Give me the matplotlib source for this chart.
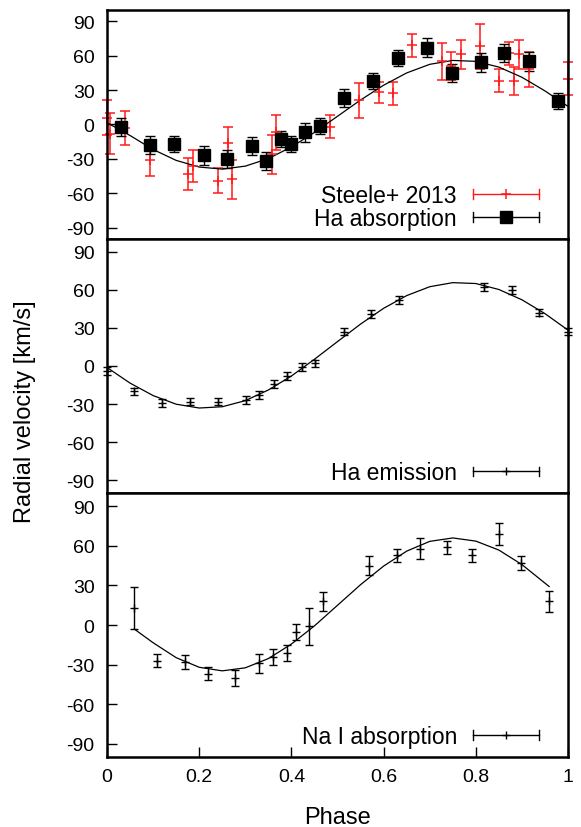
"""
Radial velocity curves folded on orbital phase, three stacked panels.
"""

import matplotlib.pyplot as plt
from matplotlib.container import ErrorbarContainer
from matplotlib.legend_handler import HandlerBase
from matplotlib.lines import Line2D

plt.rcParams['font.family'] = ['Liberation Sans', 'DejaVu Sans']
plt.rcParams['axes.unicode_minus'] = False

# %%
# Top panel: Steele+ 2013 points and our Ha absorption points

steele_phase = [0.000, 0.006, 0.039, 0.093, 0.176, 0.187, 0.241, 0.262, 0.272,
                0.357, 0.367, 0.484, 0.547, 0.589, 0.620, 0.661, 0.726, 0.746,
                0.767, 0.809, 0.851, 0.873, 0.883, 0.894, 0.916, 1.000]
steele_rv = [6, -8, -3, -31, -43, -36, -49, -16, -48,
             -26, -7, -2, 21, 28, 27, 69, 55, 51,
             61, 68, 38, 62, 38, 61, 48, 40]
steele_err = [15, 18, 15, 14, 14, 14, 11, 14, 17,
              17, 15, 10, 15, 9, 10, 10, 16, 12,
              13, 20, 10, 10, 12, 13, 15, 14]

ha_abs_phase = [0.030, 0.093, 0.146, 0.210, 0.260, 0.315, 0.345, 0.377, 0.399, 0.430,
                0.463, 0.515, 0.578, 0.631, 0.693, 0.748, 0.811, 0.862, 0.915, 0.979]
ha_abs_rv = [-2, -18, -17, -27, -30, -19, -32, -13, -17, -7,
             -1, 23, 38, 58, 67, 45, 54, 62, 55, 20]
ha_abs_err = [8, 8, 7, 8, 8, 8, 8, 7, 7, 8,
              7, 8, 7, 7, 8, 8, 8, 8, 8, 7]

# %%
# Middle panel: Ha emission

ha_em_phase = [0.000, 0.059, 0.119, 0.181, 0.241, 0.302, 0.330, 0.362, 0.391,
               0.423, 0.452, 0.513, 0.573, 0.634, 0.817, 0.878, 0.938, 0.999]
ha_em_rv = [-4, -20, -29, -28, -28, -27, -23, -14, -8,
            -1, 2, 27, 41, 52, 62, 60, 42, 27]
ha_em_err = [3, 3, 3, 3, 3, 3, 3, 3, 3,
             3, 3, 3, 3, 3, 3, 3, 3, 3]

# %%
# Bottom panel: Na I absorption

na_phase = [0.059, 0.109, 0.169, 0.218, 0.278, 0.329, 0.359, 0.390, 0.409, 0.439,
            0.469, 0.569, 0.630, 0.679, 0.738, 0.791, 0.850, 0.898, 0.959]
na_rv = [13, -27, -28, -37, -40, -29, -24, -21, -5, -1,
         18, 45, 53, 58, 59, 53, 69, 47, 18]
na_err = [16, 5, 5, 5, 6, 7, 6, 6, 6, 14,
          7, 7, 5, 8, 5, 5, 8, 5.5, 8]

# %%
# Fitted curves

fit_phase = [0.00, 0.05, 0.10, 0.15, 0.20, 0.25, 0.30, 0.35, 0.40, 0.45, 0.50,
             0.55, 0.60, 0.65, 0.70, 0.75, 0.80, 0.85, 0.90, 0.95, 1.00]
fit_abs = [1.5, -9.7, -21.9, -31.4, -37.2, -39.0, -36.4, -29.8, -19.7, -7.0, 7.1,
           21.3, 34.2, 44.9, 52.4, 55.8, 55.0, 50.0, 41.1, 29.2, 15.7]
fit_em = [-1.2, -13.5, -23.3, -30.1, -33.1, -32.1, -27.3, -18.9, -7.9, 5.3, 19.2,
          33.0, 45.4, 55.4, 62.4, 65.6, 64.9, 60.2, 52.1, 41.2, 28.2]

fit_na_phase = [0.059, 0.10, 0.15, 0.20, 0.25, 0.30, 0.35, 0.40, 0.45, 0.50,
                0.55, 0.60, 0.65, 0.70, 0.75, 0.80, 0.85, 0.90, 0.959]
fit_na = [-3.0, -13.4, -24.7, -32.0, -34.7, -32.4, -25.4, -14.4, -0.6, 15.0,
          30.6, 44.7, 56.0, 63.4, 66.0, 63.6, 56.8, 45.8, 29.2]

yticks = [-90, -60, -30, 0, 30, 60, 90]
xticks = [0, 0.2, 0.4, 0.6, 0.8, 1]
xticklabels = ['0', '0.2', '0.4', '0.6', '0.8', '1']


class GnuplotKey(HandlerBase):
    # horizontal sample with end caps, point in the middle
    def create_artists(self, legend, orig_handle, xdescent, ydescent,
                       width, height, fontsize, trans):
        pt = orig_handle[0]
        c = pt.get_color()
        y = height / 2 - ydescent
        x0, x1 = -xdescent, width - xdescent
        h = 0.3 * height
        arts = [
            Line2D([x0, x1], [y, y], color=c, lw=1),
            Line2D([x0, x0], [y - h, y + h], color=c, lw=1),
            Line2D([x1, x1], [y - h, y + h], color=c, lw=1),
            Line2D([(x0 + x1) / 2], [y], marker=pt.get_marker(), ms=pt.get_markersize(),
                   mew=pt.get_markeredgewidth(), color=c, ls='none'),
        ]
        for a in arts:
            a.set_transform(trans)
        return arts


fig = plt.figure(figsize=(5.81, 8.28), dpi=100)
ax1 = fig.add_axes([0.1842, 0.7101, 0.7935, 0.2769])
ax2 = fig.add_axes([0.1842, 0.4034, 0.7935, 0.3068])
ax3 = fig.add_axes([0.1842, 0.0845, 0.7935, 0.3188])

ax1.errorbar(steele_phase, steele_rv, yerr=steele_err, fmt='+', color='#ff1a1a',
             ms=7, mew=1.1, elinewidth=1.1, capsize=3.5, capthick=1.1,
             label='Steele+ 2013', clip_on=False)
ax1.plot(fit_phase, fit_abs, color='black', lw=0.9)
ax1.errorbar(ha_abs_phase, ha_abs_rv, yerr=ha_abs_err, fmt='s', color='black',
             ms=8.5, elinewidth=1, capsize=3.5, capthick=1,
             label='Ha absorption', clip_on=False)

ax2.plot(fit_phase, fit_em, color='black', lw=0.9)
ax2.errorbar(ha_em_phase, ha_em_rv, yerr=ha_em_err, fmt='+', color='black',
             ms=6, mew=1, elinewidth=1, capsize=3, capthick=1,
             label='Ha emission', clip_on=False)

ax3.plot(fit_na_phase, fit_na, color='black', lw=0.9)
ax3.errorbar(na_phase, na_rv, yerr=na_err, fmt='+', color='black',
             ms=6, mew=1, elinewidth=1, capsize=3, capthick=1,
             label='Na I absorption', clip_on=False)

for ax, ybox in [(ax1, 0.038), (ax2, 0.034), (ax3, 0.033)]:
    ax.set_xlim(0, 1)
    ax.set_ylim(-100, 100)
    ax.set_yticks(yticks)
    ax.tick_params(axis='y', direction='in', length=7, width=1, labelsize=14,
                   left=True, right=False, pad=9)
    ax.tick_params(axis='x', direction='in', length=7, width=1, labelsize=14,
                   bottom=False, top=False, labelbottom=False)
    for s in ax.spines.values():
        s.set_linewidth(1.8)
    ax.legend(handler_map={ErrorbarContainer: GnuplotKey()}, loc='lower right',
              bbox_to_anchor=(0.937, ybox), markerfirst=False, frameon=False,
              fontsize=16.5, handlelength=2.88, handletextpad=0.7,
              labelspacing=0.0, borderpad=0, borderaxespad=0)

ax3.set_xticks(xticks)
ax3.set_xticklabels(xticklabels)
ax3.tick_params(axis='x', bottom=True, labelbottom=True, pad=8)
ax3.set_xlabel('Phase', fontsize=17, labelpad=15)

fig.text(0.043, 0.503, 'Radial velocity [km/s]', rotation=90, fontsize=17,
         ha='center', va='center')

fig.savefig('out.png', dpi=100)
